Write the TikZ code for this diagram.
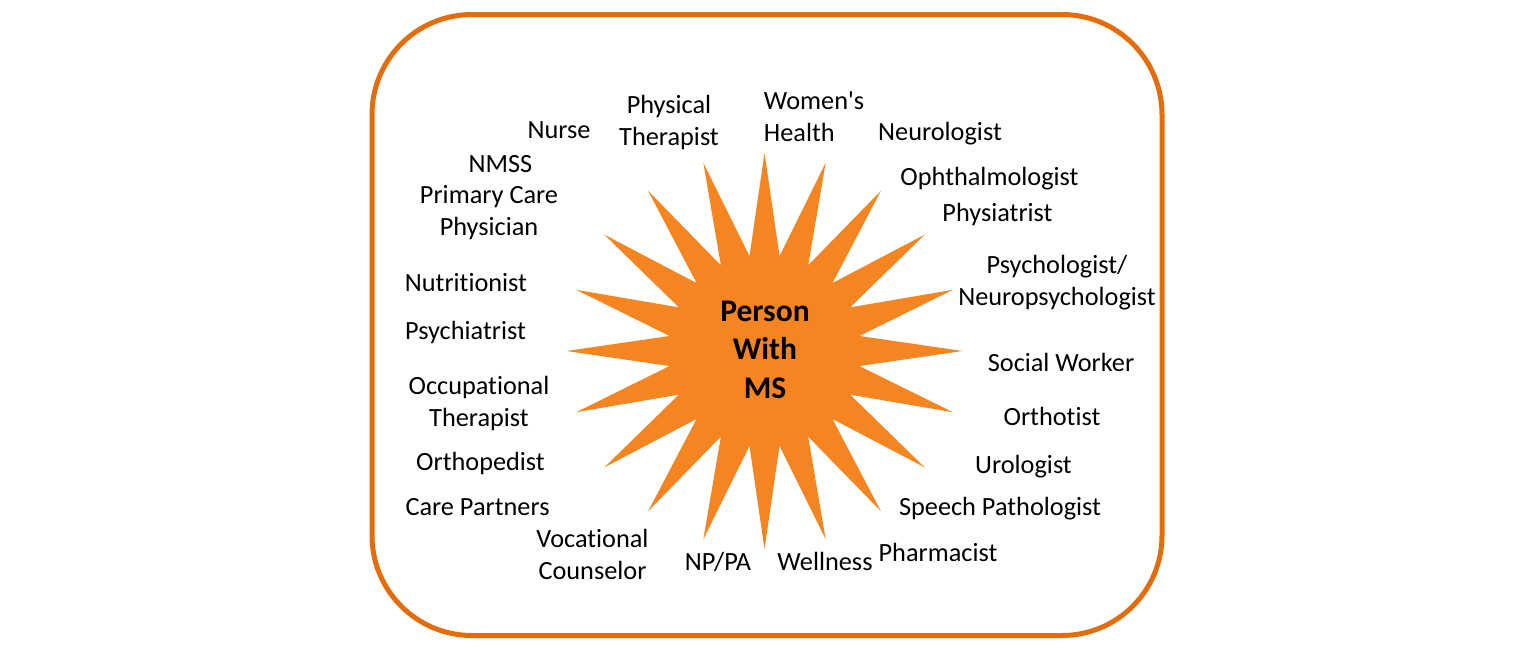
\documentclass[tikz,border=0pt]{standalone}
\usepackage{fontspec}
\setmainfont{Carlito}[Ligatures=NoCommon]
\usepackage{tikz}
\usetikzlibrary{shapes.geometric}

\definecolor{frameorange}{RGB}{228,108,10}
\definecolor{starorange}{RGB}{245,133,32}

\begin{document}
\begin{tikzpicture}[x=1pt,y=1pt,yscale=-1,xscale=1,
  member/.style={anchor=base,inner sep=0.75pt,align=center,font=\fontsize{26.3}{31.8}\selectfont},
  memberleft/.style={member,anchor=base west,align=left}]
%set diagram size to the page
\path [use as bounding box] (0,0) rectangle (1536,651);

%Rounded Rect
\draw [color=frameorange,line width=5pt,rounded corners=100pt] (372,14.5) rectangle (1162,635.5);

%Star
\node [star,star points=20,star point ratio=2.06,minimum size=396pt,inner sep=0pt,fill=starorange] (star) at (764.5,351) {};

% Text Node (base is the last line)
\node [anchor=base,inner sep=0.75pt,align=center,font=\bfseries\fontsize{31.5}{38.2}\selectfont] (person) at (765,398) {Person\\With\\MS};

% Text Node
\node [member] (nurse) at (559,138) {Nurse};
% Text Node
\node [member] (physther) at (669,145) {Physical\\Therapist};
% Text Node
\node [memberleft] (women) at (763,141) {Women\textquotesingle s\\Health};
% Text Node
\node [member] (neuro) at (940,140) {Neurologist};
% Text Node
\node [member] (ophth) at (989.5,185) {Ophthalmologist};
% Text Node
\node [member] (physia) at (997.5,221.7) {Physiatrist};
% Text Node
\node [member] (psycho) at (1057,305) {Psychologist/\\Neuropsychologist};
% Text Node
\node [member] (social) at (1061,371.7) {Social Worker};
% Text Node
\node [member] (ortho) at (1052,425.7) {Orthotist};
% Text Node
\node [member] (uro) at (1023.5,473) {Urologist};
% Text Node
\node [member] (speech) at (1000,515) {Speech Pathologist};
% Text Node
\node [member] (pharm) at (938,561) {Pharmacist};
% Text Node
\node [member] (well) at (825,570.7) {Wellness};
% Text Node
\node [member] (nppa) at (718,570) {NP/PA};
% Text Node
\node [member] (voc) at (592.5,579) {Vocational\\Counselor};
% Text Node
\node [member] (care) at (477.5,515) {Care Partners};
% Text Node
\node [member] (orthop) at (480.5,470.7) {Orthopedist};
% Text Node
\node [member] (occup) at (479,426.7) {Occupational\\Therapist};
% Text Node
\node [member] (psychi) at (465.5,339) {Psychiatrist};
% Text Node
\node [member] (nutri) at (466,291) {Nutritionist};
% Text Node
\node [member] (nmss) at (500.5,172.7) {NMSS};
% Text Node
\node [member] (pcp) at (489,235) {Primary Care\\Physician};

\end{tikzpicture}
\end{document}
